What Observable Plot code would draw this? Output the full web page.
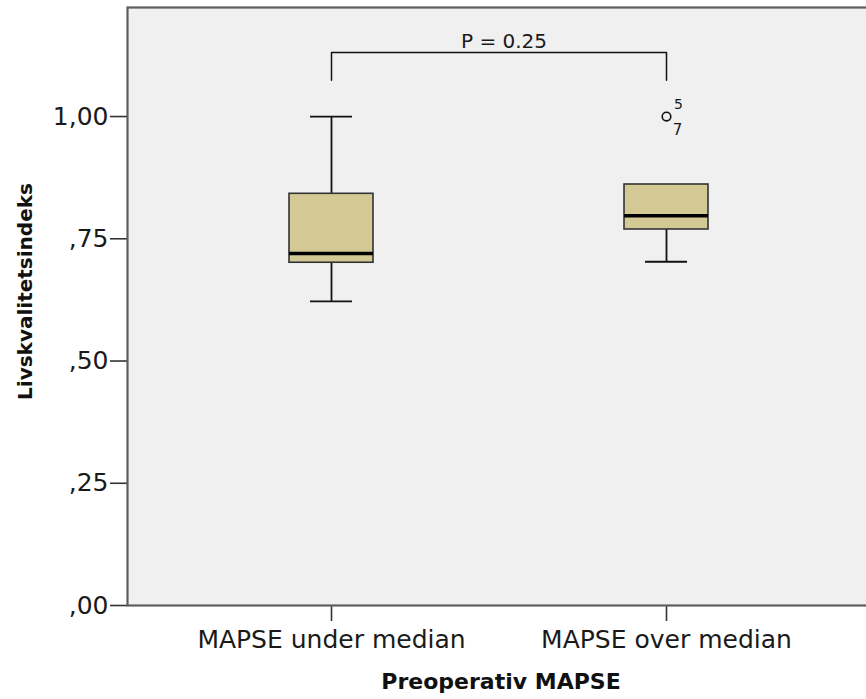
<!DOCTYPE html>
<html>
<head>
<meta charset="utf-8">
<script src="https://cdn.jsdelivr.net/npm/d3@7"></script>
<script src="https://cdn.jsdelivr.net/npm/@observablehq/plot@0.6"></script>
<style>
  html, body { margin: 0; padding: 0; background: #fff; }
  #wrap { width: 866px; height: 699px; overflow: hidden; }
</style>
</head>
<body>
<div id="wrap"></div>
<script>
// ---- data ----
const groups = ["MAPSE under median", "MAPSE over median"];
const q1 = [0.701, 0.769];
const medians = [0.720, 0.797];
const q3 = [0.842, 0.861];
const whiskerLow = [0.622, 0.703];
const whiskerHigh = [1.0, 0.861];
const outlierGroups = ["MAPSE over median"];
const outlierValues = [1.0];
const outlierLabelTop = ["5"];
const outlierLabelBottom = ["7"];
const yTicks = [0, 0.25, 0.5, 0.75, 1.0];
const yTickLabels = [",00", ",25", ",50", ",75", "1,00"];
const pLabel = "P = 0.25";
const bracketTop = 1.131;
const bracketBottom = 1.074;
const yMax = 1.223;
const xTitle = "Preoperativ MAPSE";
const yTitle = "Livskvalitetsindeks";

const boxes = groups.map((g, i) => ({
  group: g, q1: q1[i], median: medians[i], q3: q3[i], lo: whiskerLow[i], hi: whiskerHigh[i]
}));
const outliers = outlierGroups.map((g, i) => ({
  group: g, value: outlierValues[i], top: outlierLabelTop[i], bottom: outlierLabelBottom[i]
}));
const bracket = [
  {group: groups[0], y: bracketBottom},
  {group: groups[0], y: bracketTop},
  {group: groups[1], y: bracketTop},
  {group: groups[1], y: bracketBottom}
];

const chart = Plot.plot({
  width: 870,
  height: 699,
  marginLeft: 127,
  marginRight: 0,
  marginTop: 7,
  marginBottom: 94,
  style: {fontFamily: "DejaVu Sans", color: "#1a1a1a", background: "#fff", maxWidth: "none"},
  x: {type: "band", domain: groups, range: [163.25, 834.25], paddingInner: 0.75, paddingOuter: 0.375},
  y: {domain: [0, yMax]},
  marks: [
    Plot.frame({fill: "#f0f0f0", stroke: null}),
    // whiskers
    Plot.ruleX(boxes.filter(d => d.hi > d.q3), {x: "group", y1: "q3", y2: "hi", stroke: "#111", strokeWidth: 1.8}),
    Plot.ruleX(boxes, {x: "group", y1: "lo", y2: "q1", stroke: "#111", strokeWidth: 1.8}),
    Plot.tickY(boxes.filter(d => d.hi > d.q3), {x: "group", y: "hi", stroke: "#111", strokeWidth: 1.8, insetLeft: 21, insetRight: 21}),
    Plot.tickY(boxes, {x: "group", y: "lo", stroke: "#111", strokeWidth: 1.8, insetLeft: 21, insetRight: 21}),
    // boxes
    Plot.barY(boxes, {x: "group", y1: "q1", y2: "q3", fill: "#d3c994", stroke: "#333", strokeWidth: 1.6}),
    Plot.tickY(boxes, {x: "group", y: "median", stroke: "#000", strokeWidth: 3.5}),
    // outliers
    Plot.dot(outliers, {x: "group", y: "value", r: 4.3, stroke: "#111", strokeWidth: 1.6, fill: "none"}),
    Plot.text(outliers, {x: "group", y: "value", text: "top", dx: 12, dy: -12, fontSize: 14, fill: "#1a1a1a"}),
    Plot.text(outliers, {x: "group", y: "value", text: "bottom", dx: 11, dy: 14, fontSize: 15, fill: "#1a1a1a"}),
    // significance bracket
    Plot.line(bracket, {x: "group", y: "y", stroke: "#111", strokeWidth: 1.5}),
    Plot.text([pLabel], {y: [bracketTop], dx: 5, dy: -11, fontSize: 20, fill: "#1a1a1a"}),
    // axes
    Plot.axisY({ticks: yTicks, tickFormat: (d) => yTickLabels[yTicks.indexOf(d)], tickSize: 17, tickPadding: 2, fontSize: 25, stroke: "#333", strokeWidth: 1.6, label: null}),
    Plot.axisX({tickSize: 16, tickPadding: 9, fontSize: 25, stroke: "#333", strokeWidth: 1.6, label: null}),
    // titles
    Plot.text([yTitle], {frameAnchor: "left", textAnchor: "middle", lineAnchor: "middle", rotate: -90, dx: -102, dy: -15, fontSize: 20, fontWeight: "bold", fill: "#111"}),
    Plot.text([xTitle], {frameAnchor: "bottom", textAnchor: "middle", lineAnchor: "middle", dx: 2, dy: 76, fontSize: 22, fontWeight: "bold", fill: "#111"}),
    // frame lines (right edge falls outside the visible page)
    Plot.frame({stroke: "#5e5e5e", strokeWidth: 2.2})
  ]
});
document.getElementById("wrap").appendChild(chart);
</script>
</body>
</html>
